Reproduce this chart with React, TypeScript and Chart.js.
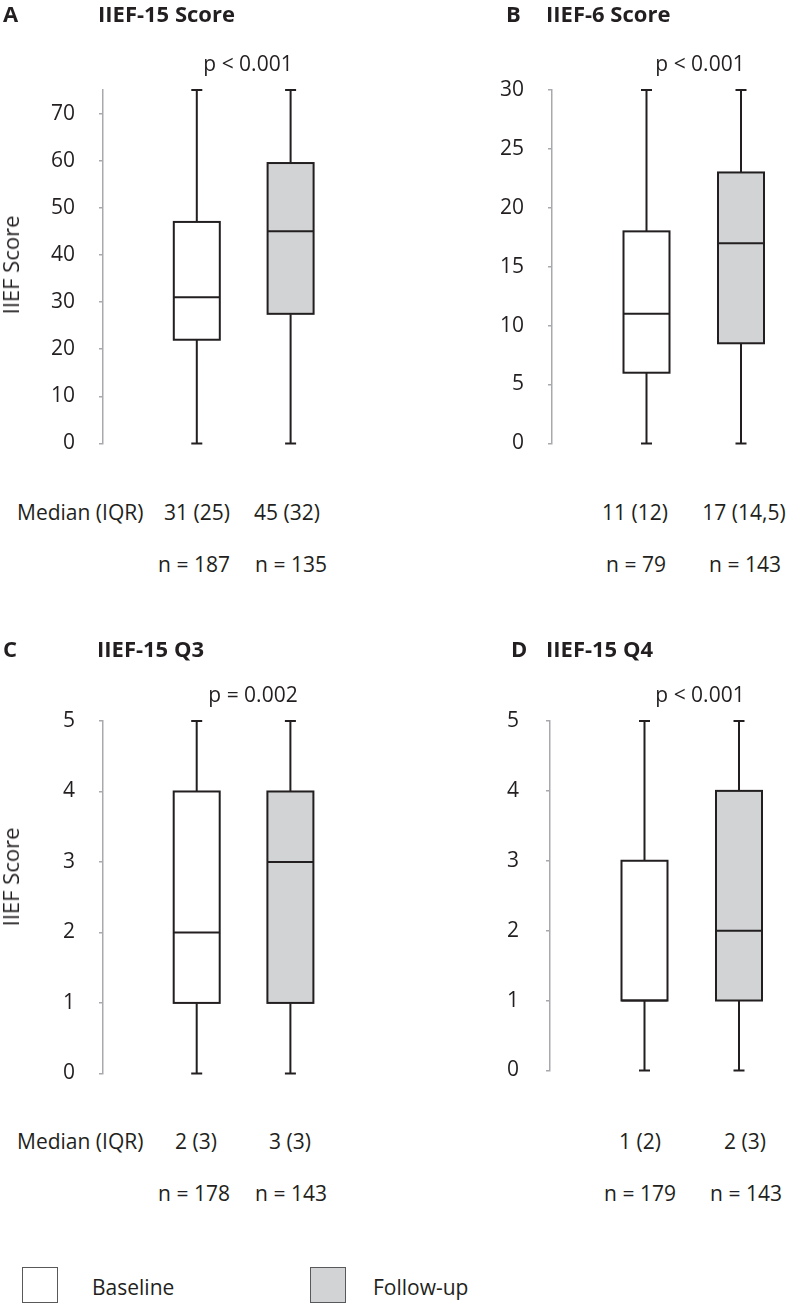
import React, { useEffect, useRef } from 'react';
import { Chart, registerables } from 'chart.js';

Chart.register(...registerables);

// Groups compared in every panel, and their positions on the x axis
const groups = ['Baseline', 'Follow-up'];
const groupX = [1, 2];

// A: IIEF-15 total score
const iief15Min = [0, 0];
const iief15Q1 = [22, 27.5];
const iief15Median = [31, 45];
const iief15Q3 = [47, 59.5];
const iief15Max = [75, 75];
const iief15N = [187, 135];
const iief15Ticks = [0, 10, 20, 30, 40, 50, 60, 70];

// B: IIEF-6 score
const iief6Min = [0, 0];
const iief6Q1 = [6, 8.5];
const iief6Median = [11, 17];
const iief6Q3 = [18, 23];
const iief6Max = [30, 30];
const iief6N = [79, 143];
const iief6Ticks = [0, 5, 10, 15, 20, 25, 30];

// C: IIEF-15 question 3
const q3Min = [0, 0];
const q3Q1 = [1, 1];
const q3Median = [2, 3];
const q3Q3 = [4, 4];
const q3Max = [5, 5];
const q3N = [178, 143];

// D: IIEF-15 question 4
const q4Min = [0, 0];
const q4Q1 = [1, 1];
const q4Median = [1, 2];
const q4Q3 = [3, 4];
const q4Max = [5, 5];
const q4N = [179, 143];

const itemTicks = [0, 1, 2, 3, 4, 5];

const INK = '#231f20';
const AXIS = '#a7a9ac';
const FILLS = ['#ffffff', '#d1d3d4'];
const FONT = '"Open Sans", "Noto Sans", sans-serif';

const fmt = (v: number) => String(v).replace('.', ',');
const medianIqr = (med: number, q1: number, q3: number) => `${fmt(med)} (${fmt(q3 - q1)})`;

type Stats = { min: number[]; q1: number[]; median: number[]; q3: number[]; max: number[]; n: number[] };

type Panel = {
  letter: string;
  title: string;
  pText: string;
  stats: Stats;
  ticks: number[];
  yMax: number;
  showYTitle: boolean;
  showMedianCaption: boolean;
  left: number;
  top: number;
  width: number;
  height: number;
  axisX: number;
  plotTop: number;
  plotBottom: number;
  unit: number;
  tickPad: number;
  letterX: number;
  titleX: number;
  headY: number;
  pX: number;
  pY: number;
  yTitleY: number;
  medX: number[];
  nX: number[];
  medY: number;
  nY: number;
};

const panels: Panel[] = [
  {
    letter: 'A', title: 'IIEF-15 Score', pText: 'p < 0.001',
    stats: { min: iief15Min, q1: iief15Q1, median: iief15Median, q3: iief15Q3, max: iief15Max, n: iief15N },
    ticks: iief15Ticks, yMax: 75, showYTitle: true, showMedianCaption: true,
    left: 0, top: 0, width: 393, height: 480, axisX: 103, plotTop: 90, plotBottom: 461, unit: 93.8, tickPad: 24,
    letterX: 3, titleX: 98, headY: 13, pX: 248, pY: 63, yTitleY: 265,
    medX: [197, 287], nX: [194, 291], medY: 512, nY: 564,
  },
  {
    letter: 'B', title: 'IIEF-6 Score', pText: 'p < 0.001',
    stats: { min: iief6Min, q1: iief6Q1, median: iief6Median, q3: iief6Q3, max: iief6Max, n: iief6N },
    ticks: iief6Ticks, yMax: 30, showYTitle: false, showMedianCaption: false,
    left: 393, top: 0, width: 393, height: 480, axisX: 552, plotTop: 90, plotBottom: 461, unit: 94.5, tickPad: 24,
    letterX: 506, titleX: 546, headY: 13, pX: 700, pY: 63, yTitleY: 265,
    medX: [635, 744], nX: [636, 745], medY: 512, nY: 564,
  },
  {
    letter: 'C', title: 'IIEF-15 Q3', pText: 'p = 0.002',
    stats: { min: q3Min, q1: q3Q1, median: q3Median, q3: q3Q3, max: q3Max, n: q3N },
    ticks: itemTicks, yMax: 5, showYTitle: true, showMedianCaption: true,
    left: 0, top: 630, width: 393, height: 480, axisX: 103, plotTop: 721, plotBottom: 1092, unit: 93.7, tickPad: 24,
    letterX: 3, titleX: 97, headY: 648, pX: 253, pY: 694, yTitleY: 877,
    medX: [196, 290], nX: [194, 291], medY: 1141, nY: 1193,
  },
  {
    letter: 'D', title: 'IIEF-15 Q4', pText: 'p < 0.001',
    stats: { min: q4Min, q1: q4Q1, median: q4Median, q3: q4Q3, max: q4Max, n: q4N },
    ticks: itemTicks, yMax: 5, showYTitle: false, showMedianCaption: false,
    left: 393, top: 630, width: 393, height: 480, axisX: 550, plotTop: 721, plotBottom: 1092, unit: 94.5, tickPad: 27,
    letterX: 511, titleX: 546, headY: 648, pX: 700, pY: 694, yTitleY: 877,
    medX: [640, 745], nX: [640, 746], medY: 1141, nY: 1193,
  },
];

const X_MAX = 2.4;

// Whiskers (min/max with caps) behind the boxes; box outlines and medians on top
function makeBoxPlugin(stats: Stats) {
  return {
    id: 'boxWhiskers',
    beforeDatasetsDraw(chart: any) {
      const meta = chart.getDatasetMeta(0);
      const y = chart.scales.y;
      const ctx = chart.ctx;
      ctx.save();
      ctx.strokeStyle = INK;
      ctx.lineWidth = 2;
      meta.data.forEach((bar: any, i: number) => {
        const x = bar.x;
        const yMin = y.getPixelForValue(stats.min[i]);
        const yMax = y.getPixelForValue(stats.max[i]);
        const yQ1 = y.getPixelForValue(stats.q1[i]);
        const yQ3 = y.getPixelForValue(stats.q3[i]);
        const cap = 11;
        ctx.beginPath();
        ctx.moveTo(x, yQ1);
        ctx.lineTo(x, yMin);
        ctx.moveTo(x, yQ3);
        ctx.lineTo(x, yMax);
        ctx.moveTo(x - cap / 2, yMin);
        ctx.lineTo(x + cap / 2, yMin);
        ctx.moveTo(x - cap / 2, yMax);
        ctx.lineTo(x + cap / 2, yMax);
        ctx.stroke();
      });
      ctx.restore();
    },
    afterDatasetsDraw(chart: any) {
      const meta = chart.getDatasetMeta(0);
      const y = chart.scales.y;
      const ctx = chart.ctx;
      ctx.save();
      ctx.strokeStyle = INK;
      ctx.lineWidth = 2;
      meta.data.forEach((bar: any, i: number) => {
        const x0 = bar.x - bar.width / 2;
        const x1 = bar.x + bar.width / 2;
        const yQ1 = y.getPixelForValue(stats.q1[i]);
        const yQ3 = y.getPixelForValue(stats.q3[i]);
        const yMed = y.getPixelForValue(stats.median[i]);
        ctx.strokeRect(x0, yQ3, x1 - x0, yQ1 - yQ3);
        ctx.beginPath();
        ctx.moveTo(x0, yMed);
        ctx.lineTo(x1, yMed);
        ctx.stroke();
      });
      ctx.restore();
    },
  };
}

function BoxPanel({ p }: { p: Panel }) {
  const ref = useRef<HTMLCanvasElement | null>(null);

  useEffect(() => {
    if (!ref.current) return;
    const axisWidth = p.axisX - p.left;
    const padRight = p.width - axisWidth - X_MAX * p.unit;
    const chart = new Chart(ref.current, {
      type: 'bar',
      data: {
        datasets: [
          {
            label: p.title,
            data: groupX.map((x, i) => ({ x, y: [p.stats.q1[i], p.stats.q3[i]] })) as any,
            backgroundColor: FILLS,
            borderWidth: 0,
            barThickness: 46,
          },
        ],
      },
      options: {
        responsive: false,
        animation: false,
        devicePixelRatio: 1,
        events: [],
        layout: {
          padding: {
            left: 0,
            right: padRight,
            top: p.plotTop - p.top,
            bottom: p.top + p.height - p.plotBottom,
          },
        },
        plugins: {
          legend: { display: false },
          tooltip: { enabled: false },
          title: { display: false },
        },
        scales: {
          x: {
            type: 'linear',
            min: 0,
            max: X_MAX,
            offset: false,
            grid: { offset: false },
            display: false,
          },
          y: {
            type: 'linear',
            min: 0,
            max: p.yMax,
            afterBuildTicks: (scale: any) => {
              scale.ticks = p.ticks.map((v) => ({ value: v }));
            },
            afterFit: (scale: any) => {
              scale.width = axisWidth;
            },
            border: { display: true, color: AXIS, width: 1.5 },
            grid: {
              drawOnChartArea: false,
              drawTicks: true,
              tickLength: 4,
              color: AXIS,
              lineWidth: 1.5,
            },
            ticks: {
              color: INK,
              padding: p.tickPad,
              font: { family: FONT, size: 21 },
            },
          },
        },
      },
      plugins: [makeBoxPlugin(p.stats)],
    });
    return () => chart.destroy();
  }, [p]);

  return (
    <canvas
      ref={ref}
      width={p.width}
      height={p.height}
      style={{ position: 'absolute', left: p.left, top: p.top, width: p.width, height: p.height }}
    />
  );
}

const baseText: React.CSSProperties = {
  position: 'absolute',
  fontFamily: FONT,
  fontSize: 21,
  color: INK,
  whiteSpace: 'nowrap',
  lineHeight: 1,
};

function Centered({ x, y, children }: { x: number; y: number; children: React.ReactNode }) {
  return (
    <div style={{ ...baseText, left: x, top: y, transform: 'translate(-50%, -50%)' }}>
      {children}
    </div>
  );
}

function LeftText({ x, y, children, bold }: { x: number; y: number; children: React.ReactNode; bold?: boolean }) {
  return (
    <div
      style={{
        ...baseText,
        left: x,
        top: y,
        transform: 'translateY(-50%)',
        fontWeight: bold ? 700 : 400,
        fontSize: bold ? 22 : 21,
      }}
    >
      {children}
    </div>
  );
}

function PanelText({ p }: { p: Panel }) {
  return (
    <>
      <LeftText x={p.letterX} y={p.headY} bold>{p.letter}</LeftText>
      <LeftText x={p.titleX} y={p.headY} bold>{p.title}</LeftText>
      <Centered x={p.pX} y={p.pY}>{p.pText}</Centered>
      {p.showYTitle && (
        <div
          style={{
            ...baseText,
            fontSize: 22,
            left: 10,
            top: p.yTitleY,
            transform: 'translate(-50%, -50%) rotate(-90deg)',
          }}
        >
          IIEF Score
        </div>
      )}
      {p.showMedianCaption && <LeftText x={17} y={p.medY}>Median (IQR)</LeftText>}
      {groups.map((g, i) => (
        <React.Fragment key={g}>
          <Centered x={p.medX[i]} y={p.medY}>
            {medianIqr(p.stats.median[i], p.stats.q1[i], p.stats.q3[i])}
          </Centered>
          <Centered x={p.nX[i]} y={p.nY}>{`n = ${p.stats.n[i]}`}</Centered>
        </React.Fragment>
      ))}
    </>
  );
}

const legendX = [22, 310];
const legendTextX = [92, 373];

export default function App() {
  return (
    <div style={{ position: 'absolute', left: 0, top: 0, width: 786, height: 1304, background: '#ffffff', overflow: 'hidden' }}>
      {panels.map((p) => (
        <React.Fragment key={p.letter}>
          <BoxPanel p={p} />
          <PanelText p={p} />
        </React.Fragment>
      ))}
      {groups.map((g, i) => (
        <React.Fragment key={g}>
          <div
            style={{
              position: 'absolute',
              left: legendX[i],
              top: 1267,
              width: 36,
              height: 36,
              boxSizing: 'border-box',
              border: '1.5px solid #58595b',
              background: FILLS[i],
            }}
          />
          <LeftText x={legendTextX[i]} y={1287}>{g}</LeftText>
        </React.Fragment>
      ))}
    </div>
  );
}
